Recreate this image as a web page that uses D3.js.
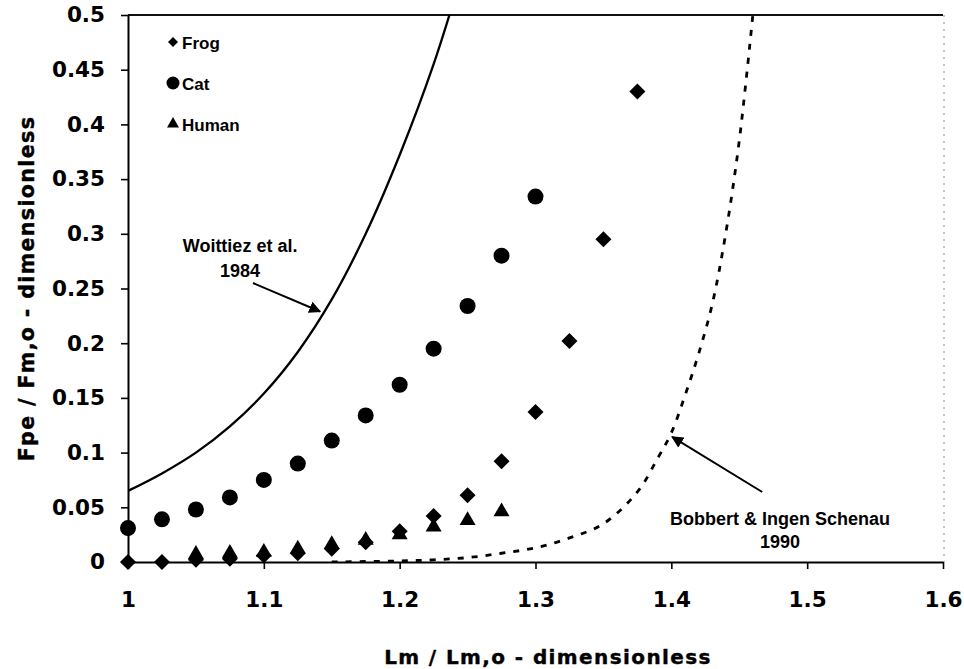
<!DOCTYPE html>
<html>
<head>
<meta charset="utf-8">
<script src="https://cdn.jsdelivr.net/npm/d3@7"></script>
<style>
  html, body { margin: 0; padding: 0; background: #fff; }
  svg { display: block; }
</style>
</head>
<body>
<div id="chart"></div>
<script>
// ---------------- DATA ----------------
const xTickValues = [1, 1.1, 1.2, 1.3, 1.4, 1.5, 1.6];
const xTickLabels = ["1", "1.1", "1.2", "1.3", "1.4", "1.5", "1.6"];
const yTickValues = [0, 0.05, 0.1, 0.15, 0.2, 0.25, 0.3, 0.35, 0.4, 0.45, 0.5];
const yTickLabels = ["0", "0.05", "0.1", "0.15", "0.2", "0.25", "0.3", "0.35", "0.4", "0.45", "0.5"];

const frogX = [1, 1.025, 1.05, 1.075, 1.1, 1.125, 1.15, 1.175, 1.2, 1.225, 1.25, 1.275, 1.3, 1.325, 1.35, 1.375];
const frogY = [0, 0, 0.002, 0.003, 0.006, 0.008, 0.012, 0.018, 0.028, 0.042, 0.061, 0.092, 0.137, 0.202, 0.295, 0.430];

const catX = [1, 1.025, 1.05, 1.075, 1.1, 1.125, 1.15, 1.175, 1.2, 1.225, 1.25, 1.275, 1.3];
const catY = [0.031, 0.039, 0.048, 0.059, 0.075, 0.090, 0.111, 0.134, 0.162, 0.195, 0.234, 0.280, 0.334];

const humanX = [1.05, 1.075, 1.1, 1.125, 1.15, 1.175, 1.2, 1.225, 1.25, 1.275];
const humanY = [0.007, 0.008, 0.009, 0.012, 0.016, 0.020, 0.025, 0.032, 0.038, 0.046];

const woittiezX = [1, 1.025, 1.05, 1.075, 1.1, 1.125, 1.15, 1.175, 1.2, 1.225, 1.25];
const woittiezY = [0.065, 0.081, 0.100, 0.124, 0.154, 0.192, 0.240, 0.300, 0.372, 0.455, 0.555];

const bobbertX = [1.15, 1.2, 1.225, 1.25, 1.275, 1.3, 1.325, 1.35, 1.375, 1.39, 1.4, 1.41, 1.42, 1.43, 1.44, 1.45, 1.46];
const bobbertY = [0, 0.001, 0.002, 0.004, 0.008, 0.013, 0.022, 0.035, 0.064, 0.095, 0.118, 0.152, 0.190, 0.235, 0.300, 0.385, 0.500];

const legendLabels = ["Frog", "Cat", "Human"];
const xTitle = "Lm / Lm,o - dimensionless";
const yTitle = "Fpe / Fm,o - dimensionless";
const woittiezLabel = ["Woittiez et al.", "1984"];
const bobbertLabel = ["Bobbert & Ingen Schenau", "1990"];

// ---------------- LAYOUT ----------------
const W = 964, H = 669;
const mLeft = 128, mRight = 943, mTop = 15, mBottom = 562;
const tickFont = "'DejaVu Sans', sans-serif";
const textFont = "'Liberation Sans', Arial, sans-serif";

const svg = d3.select("#chart").append("svg")
  .attr("width", W).attr("height", H)
  .style("background", "#fff");

const x = d3.scaleLinear().domain([1, 1.6]).range([mLeft, mRight]);
const y = d3.scaleLinear().domain([0, 0.5]).range([mBottom, mTop]);

const defs = svg.append("defs");
defs.append("clipPath").attr("id", "plotclip")
  .append("rect").attr("x", mLeft).attr("y", mTop)
  .attr("width", mRight - mLeft).attr("height", mBottom - mTop);
defs.append("marker").attr("id", "arrow")
  .attr("viewBox", "0 0 10 10").attr("refX", 9).attr("refY", 5)
  .attr("markerWidth", 6).attr("markerHeight", 6)
  .attr("markerUnits", "strokeWidth")
  .attr("orient", "auto")
  .append("path").attr("d", "M0,0 L10,5 L0,10 Z").attr("fill", "#000");

// top border & dotted right border
svg.append("line").attr("x1", mLeft).attr("x2", mRight).attr("y1", mTop).attr("y2", mTop)
  .attr("stroke", "#111").attr("stroke-width", 2);
svg.append("line").attr("x1", mRight + 1).attr("x2", mRight + 1).attr("y1", mTop).attr("y2", mBottom)
  .attr("stroke", "#888").attr("stroke-width", 1).attr("stroke-dasharray", "2,5");

// axes
const yAxis = d3.axisLeft(y).tickValues(yTickValues)
  .tickFormat((d, i) => yTickLabels[i]).tickSize(7).tickSizeOuter(0).tickPadding(16);
const gy = svg.append("g").attr("transform", `translate(${mLeft},0)`).call(yAxis);
gy.select(".domain").attr("stroke", "#000").attr("stroke-width", 2);
gy.selectAll(".tick line").attr("stroke", "#000").attr("stroke-width", 1.6);
gy.selectAll(".tick text").attr("font-family", tickFont).attr("font-weight", "bold")
  .attr("font-size", 21.5).attr("fill", "#000");

const xAxis = d3.axisBottom(x).tickValues(xTickValues)
  .tickFormat((d, i) => xTickLabels[i]).tickSize(7).tickSizeOuter(0).tickPadding(23);
const gx = svg.append("g").attr("transform", `translate(0,${mBottom})`).call(xAxis);
gx.select(".domain").attr("stroke", "#000").attr("stroke-width", 2);
gx.selectAll(".tick line").attr("stroke", "#000").attr("stroke-width", 1.6);
gx.selectAll(".tick text").attr("font-family", tickFont).attr("font-weight", "bold")
  .attr("font-size", 21.5).attr("fill", "#000");

// axis titles
svg.append("text").attr("x", 548).attr("y", 664)
  .attr("text-anchor", "middle").attr("font-family", tickFont).attr("font-weight", "bold")
  .attr("font-size", 20).attr("letter-spacing", 1.4)
  .attr("stroke", "#000").attr("stroke-width", 0.4).text(xTitle);
svg.append("text").attr("transform", `translate(34,${(mTop + mBottom) / 2}) rotate(-90)`)
  .attr("text-anchor", "middle").attr("font-family", tickFont).attr("font-weight", "bold")
  .attr("font-size", 20.5).attr("letter-spacing", 1.4)
  .attr("stroke", "#000").attr("stroke-width", 0.4).text(yTitle);

// curves
const plot = svg.append("g").attr("clip-path", "url(#plotclip)");
const line = d3.line().x(d => x(d[0])).y(d => y(d[1])).curve(d3.curveCatmullRom.alpha(0.5));
plot.append("path").datum(d3.zip(woittiezX, woittiezY)).attr("d", line)
  .attr("fill", "none").attr("stroke", "#000").attr("stroke-width", 2.3);
plot.append("path").datum(d3.zip(bobbertX, bobbertY)).attr("d", line)
  .attr("fill", "none").attr("stroke", "#000").attr("stroke-width", 2.8)
  .attr("stroke-dasharray", "6,8");

// markers
const diamond = d3.symbol().type(d3.symbolSquare).size(128);
const circle = d3.symbol().type(d3.symbolCircle).size(201);
const triangle = d3.symbol().type(d3.symbolTriangle).size(111);

svg.append("g").selectAll("path").data(d3.zip(catX, catY)).join("path")
  .attr("d", circle).attr("transform", d => `translate(${x(d[0])},${y(d[1])})`).attr("fill", "#000");
svg.append("g").selectAll("path").data(d3.zip(frogX, frogY)).join("path")
  .attr("d", diamond).attr("transform", d => `translate(${x(d[0])},${y(d[1])}) rotate(45)`).attr("fill", "#000");
svg.append("g").selectAll("path").data(d3.zip(humanX, humanY)).join("path")
  .attr("d", triangle).attr("transform", d => `translate(${x(d[0])},${y(d[1])})`).attr("fill", "#000");

// legend
const legendSymbols = [
  { p: d3.symbol().type(d3.symbolSquare).size(50)(), rot: 45 },
  { p: d3.symbol().type(d3.symbolCircle).size(133)(), rot: 0 },
  { p: d3.symbol().type(d3.symbolTriangle).size(62)(), rot: 0 }
];
const legendY = [42, 83, 124];
legendLabels.forEach((lab, i) => {
  svg.append("path").attr("d", legendSymbols[i].p)
    .attr("transform", `translate(173,${legendY[i]}) rotate(${legendSymbols[i].rot})`).attr("fill", "#000");
  svg.append("text").attr("x", 182).attr("y", legendY[i] + 6.5)
    .attr("font-family", textFont).attr("font-weight", "bold").attr("font-size", 17)
    .text(lab);
});

// annotations
function annotate(lines, cx, by, lh, tail, tip) {
  lines.forEach((t, i) => {
    svg.append("text").attr("x", x(cx)).attr("y", y(by) + i * lh)
      .attr("text-anchor", "middle").attr("font-family", textFont).attr("font-weight", "bold")
      .attr("font-size", 18).text(t);
  });
  svg.append("line").attr("x1", x(tail[0])).attr("y1", y(tail[1]))
    .attr("x2", x(tip[0])).attr("y2", y(tip[1]))
    .attr("stroke", "#000").attr("stroke-width", 2).attr("marker-end", "url(#arrow)");
}
annotate(woittiezLabel, 1.0825, 0.283, 25, [1.092, 0.255], [1.1414, 0.229]);
annotate(bobbertLabel, 1.48, 0.0338, 23, [1.4669, 0.064], [1.4006, 0.1143]);
</script>
</body>
</html>
